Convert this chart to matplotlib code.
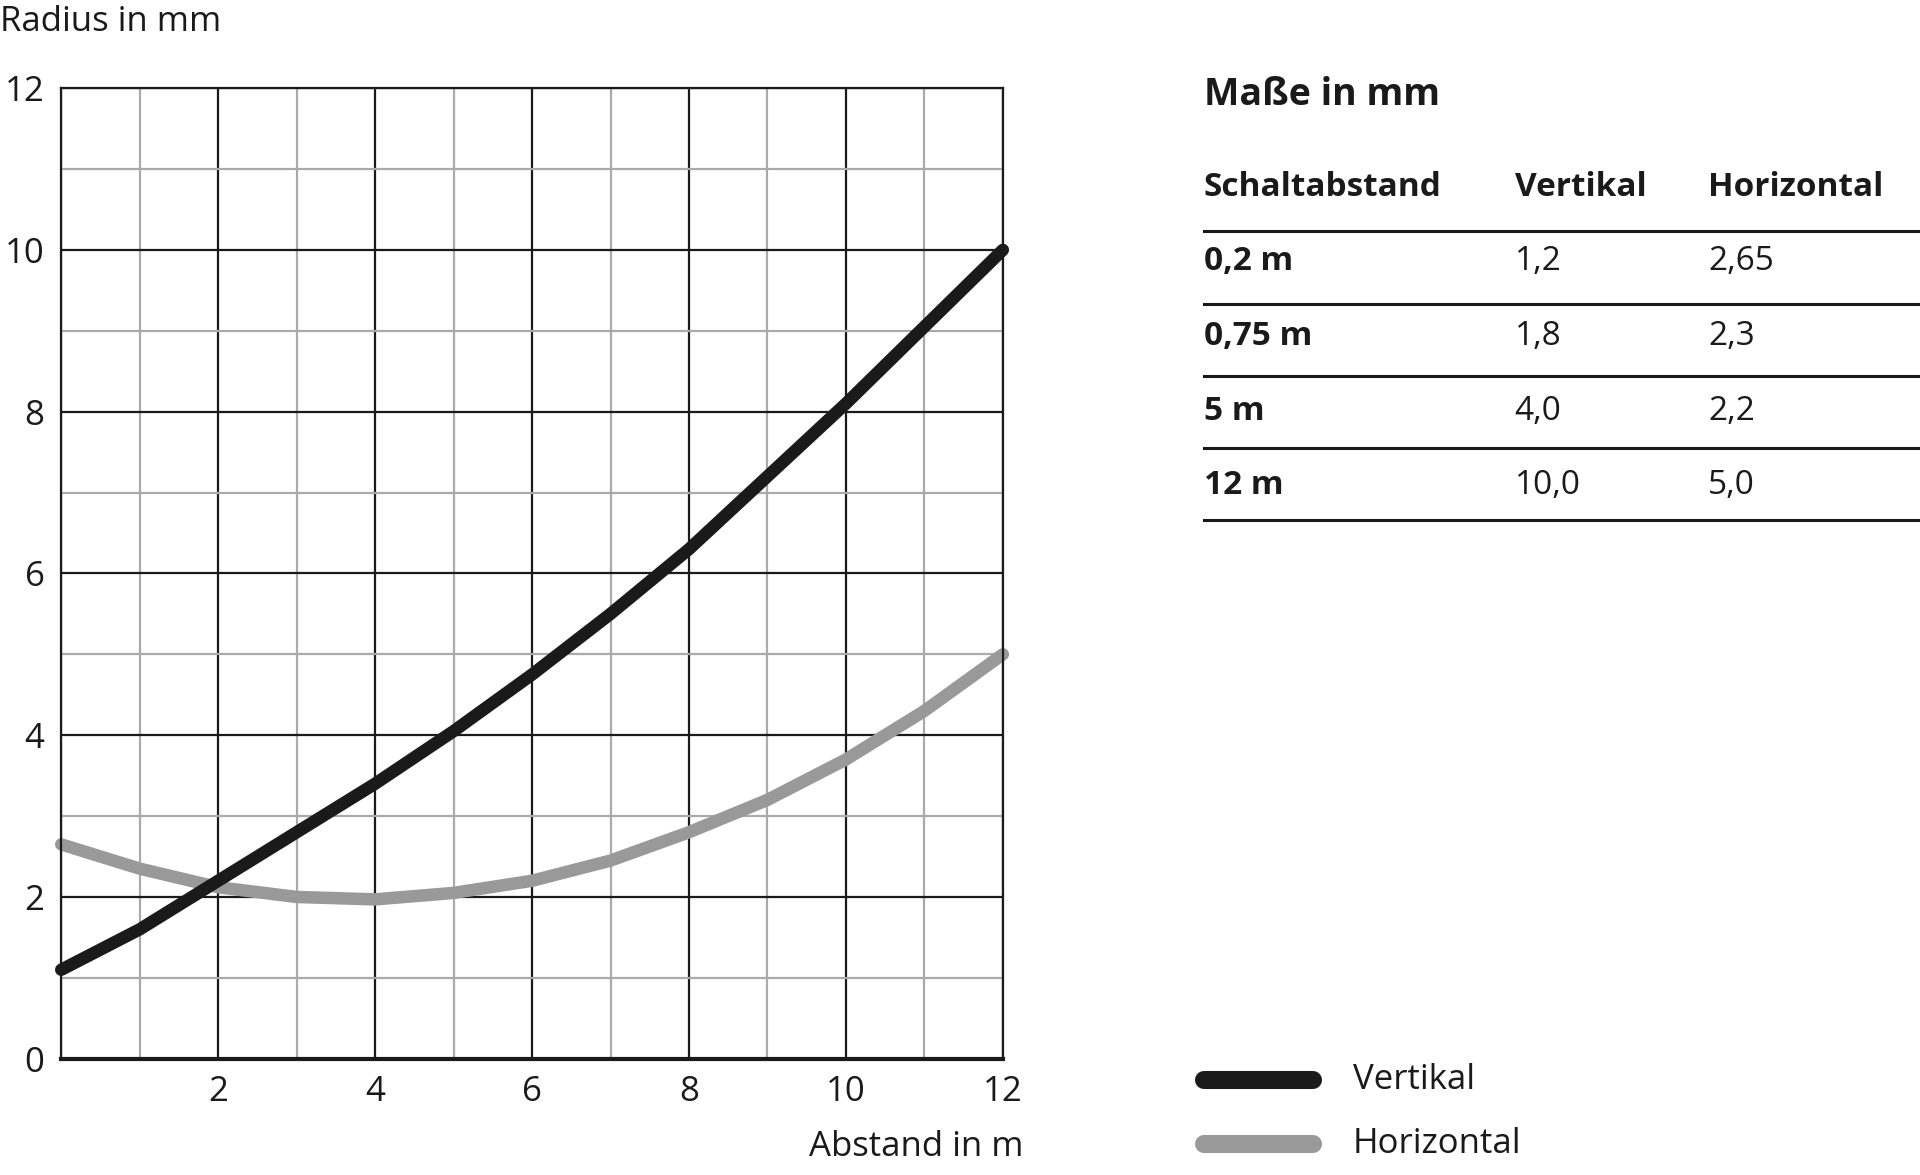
import matplotlib
matplotlib.use("Agg")
import matplotlib.pyplot as plt
from matplotlib.lines import Line2D

plt.rcParams['font.family'] = ['Open Sans', 'DejaVu Sans']

dist = [0, 1, 2, 3, 4, 5, 6, 7, 8, 9, 10, 11, 12]
vertikal = [1.1, 1.6, 2.2, 2.8, 3.4, 4.05, 4.75, 5.5, 6.3, 7.2, 8.1, 9.05, 10.0]
horizontal = [2.65, 2.35, 2.12, 2.0, 1.97, 2.05, 2.2, 2.45, 2.8, 3.2, 3.7, 4.3, 5.0]

tbl_header = ["Schaltabstand", "Vertikal", "Horizontal"]
tbl_rows = [["0,2 m", "1,2", "2,65"], ["0,75 m", "1,8", "2,3"],
            ["5 m", "4,0", "2,2"], ["12 m", "10,0", "5,0"]]

W, H = 1568, 960
fig = plt.figure(figsize=(19.2, 11.75), dpi=100)
fx = lambda x: x / W
fy = lambda y: 1 - y / H

ax = fig.add_axes([fx(50), fy(865), fx(819) - fx(50), fy(72) - fy(865)])
ax.set_xlim(0, 12); ax.set_ylim(0, 12)
ax.set_xticks(range(0, 13, 2)); ax.set_yticks(range(0, 13, 2))
ax.set_xticks(range(1, 13, 2), minor=True); ax.set_yticks(range(1, 13, 2), minor=True)
ax.grid(which='major', color='#1a1a1a', lw=1.6)
ax.grid(which='minor', color='#aaaaaa', lw=1.6)
ax.set_axisbelow(True)
for s in ax.spines.values():
    s.set_color('#1a1a1a'); s.set_linewidth(1.6)
ax.spines['bottom'].set_linewidth(3)
ax.tick_params(which='both', length=0, labelsize=25, colors='#1a1a1a', pad=12)
ax.set_xticklabels(['', '2', '4', '6', '8', '10', '12'])
ax.plot(dist, horizontal, color='#999999', lw=9, solid_capstyle='round', clip_on=False)
ax.plot(dist, vertikal, color='#1a1a1a', lw=9, solid_capstyle='round', clip_on=False)

fig.text(0, fy(18), "Radius in mm", fontsize=25, va='center', color='#1a1a1a')
fig.text(fx(836), fy(937), "Abstand in m", fontsize=25, va='center', ha='right', color='#1a1a1a')

fig.text(fx(983), fy(78), "Maße in mm", fontsize=27, weight='bold', va='center', color='#1a1a1a')
cols = [983, 1237, 1395]
for c, t in zip(cols, tbl_header):
    fig.text(fx(c), fy(153), t, fontsize=24, weight='bold', va='center', color='#1a1a1a')
for i, row in enumerate(tbl_rows):
    y = 214 + i * 61
    for j, (c, t) in enumerate(zip(cols, row)):
        fig.text(fx(c), fy(y), t, fontsize=24, weight='bold' if j == 0 else 'normal',
                 va='center', color='#1a1a1a')
for y in [189, 248, 307, 366, 425]:
    fig.add_artist(Line2D([fx(983), 1], [fy(y), fy(y)], color='#1a1a1a', lw=2.2))

for y, col, lab in [(882, '#1a1a1a', 'Vertikal'), (935, '#999999', 'Horizontal')]:
    fig.add_artist(Line2D([fx(983), fx(1072)], [fy(y), fy(y)], color=col, lw=13,
                          solid_capstyle='round'))
    fig.text(fx(1105), fy(y), lab, fontsize=25, va='center', color='#1a1a1a')

fig.savefig("out.png", dpi=100)
